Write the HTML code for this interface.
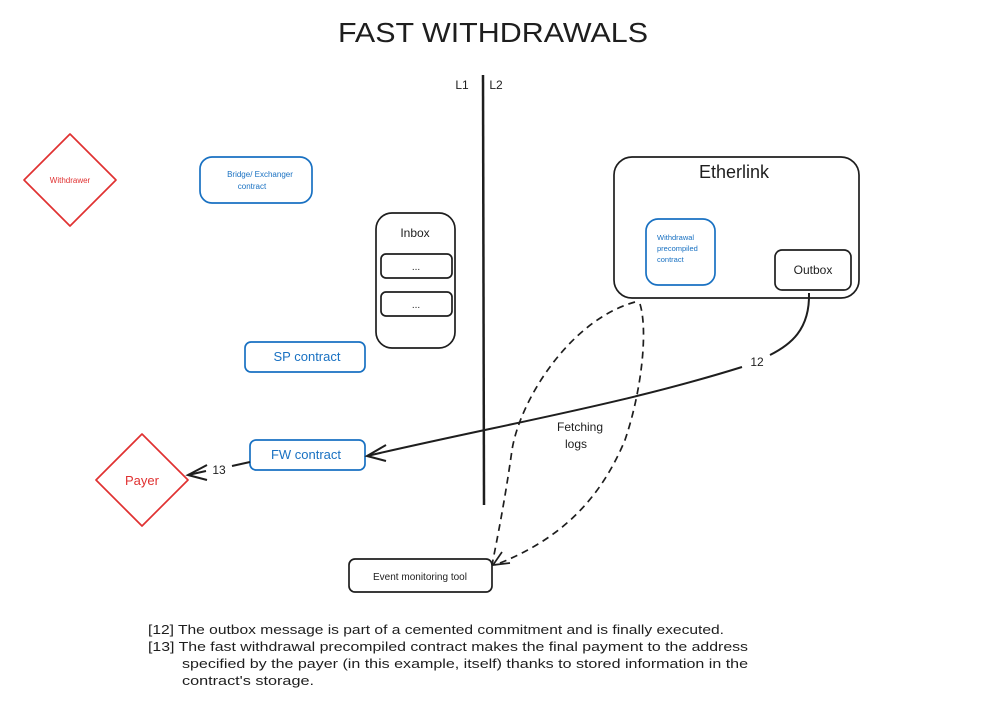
<!DOCTYPE html>
<html><head><meta charset="utf-8"><style>
body{margin:0;background:#fff}
svg text{font-family:"Liberation Sans",sans-serif}
</style></head><body>
<svg width="986" height="698" viewBox="0 0 986 698" xmlns="http://www.w3.org/2000/svg">
<rect width="986" height="698" fill="#fff"/>
<text x="493" y="42" font-size="28" text-anchor="middle" fill="#1e1e1e" textLength="310" lengthAdjust="spacingAndGlyphs">FAST WITHDRAWALS</text>
<line x1="483" y1="75" x2="484" y2="505" stroke="#1e1e1e" stroke-width="2.5"/>
<text x="462" y="89" font-size="12" text-anchor="middle" fill="#1e1e1e">L1</text>
<text x="496" y="89" font-size="12" text-anchor="middle" fill="#1e1e1e">L2</text>

<path d="M70 134 L116 180 L70 226 L24 180 Z" fill="none" stroke="#e03131" stroke-width="1.7" stroke-linejoin="round"/>
<text x="70" y="183" font-size="8" text-anchor="middle" fill="#e03131">Withdrawer</text>
<path d="M142 434 L188 480 L142 526 L96 480 Z" fill="none" stroke="#e03131" stroke-width="1.7" stroke-linejoin="round"/>
<text x="142" y="485" font-size="13" text-anchor="middle" fill="#e03131">Payer</text>

<rect x="200" y="157" width="112" height="46" rx="12" fill="none" stroke="#1971c2" stroke-width="1.7"/>
<text x="260" y="177" font-size="8" text-anchor="middle" fill="#1971c2">Bridge/ Exchanger</text>
<text x="252" y="189" font-size="8" text-anchor="middle" fill="#1971c2">contract</text>
<rect x="245" y="342" width="120" height="30" rx="6" fill="none" stroke="#1971c2" stroke-width="1.7"/>
<text x="307" y="361" font-size="13" text-anchor="middle" fill="#1971c2">SP contract</text>
<rect x="250" y="440" width="115" height="30" rx="6" fill="none" stroke="#1971c2" stroke-width="1.7"/>
<text x="306" y="459" font-size="13" text-anchor="middle" fill="#1971c2">FW contract</text>

<rect x="376" y="213" width="79" height="135" rx="16" fill="none" stroke="#1e1e1e" stroke-width="1.7"/>
<text x="415" y="237" font-size="12" text-anchor="middle" fill="#1e1e1e">Inbox</text>
<rect x="381" y="254" width="71" height="24" rx="5" fill="none" stroke="#1e1e1e" stroke-width="1.7"/>
<text x="416" y="270" font-size="10" text-anchor="middle" fill="#1e1e1e">...</text>
<rect x="381" y="292" width="71" height="24" rx="5" fill="none" stroke="#1e1e1e" stroke-width="1.7"/>
<text x="416" y="308" font-size="10" text-anchor="middle" fill="#1e1e1e">...</text>

<rect x="614" y="157" width="245" height="141" rx="18" fill="none" stroke="#1e1e1e" stroke-width="1.7"/>
<text x="734" y="178" font-size="18" text-anchor="middle" fill="#1e1e1e">Etherlink</text>
<rect x="646" y="219" width="69" height="66" rx="12" fill="none" stroke="#1971c2" stroke-width="1.7"/>
<text x="657" y="240" font-size="7.5" fill="#1971c2">Withdrawal</text>
<text x="657" y="251" font-size="7.5" fill="#1971c2">precompiled</text>
<text x="657" y="262" font-size="7.5" fill="#1971c2">contract</text>
<rect x="775" y="250" width="76" height="40" rx="7" fill="none" stroke="#1e1e1e" stroke-width="1.7"/>
<text x="813" y="274" font-size="12" text-anchor="middle" fill="#1e1e1e">Outbox</text>

<rect x="349" y="559" width="143" height="33" rx="6" fill="none" stroke="#1e1e1e" stroke-width="1.7"/>
<text x="420" y="580" font-size="10" text-anchor="middle" fill="#1e1e1e">Event monitoring tool</text>

<path d="M809 293 C810 330 790 345 770 355" fill="none" stroke="#1e1e1e" stroke-width="2"/>
<path d="M742 367 C620 405 500 425 367 456" fill="none" stroke="#1e1e1e" stroke-width="2"/>
<path d="M386 445 L367 456 L386 461" fill="none" stroke="#1e1e1e" stroke-width="2"/>
<text x="757" y="366" font-size="12" text-anchor="middle" fill="#1e1e1e">12</text>
<line x1="250" y1="462" x2="232" y2="466" stroke="#1e1e1e" stroke-width="2"/>
<line x1="206" y1="471" x2="188" y2="475" stroke="#1e1e1e" stroke-width="2"/>
<path d="M207 465 L188 475 L207 480" fill="none" stroke="#1e1e1e" stroke-width="2"/>
<text x="219" y="474" font-size="12" text-anchor="middle" fill="#1e1e1e">13</text>

<path d="M635 302 C570 320 520 400 512 450 C505 500 497 540 492 565" fill="none" stroke="#1e1e1e" stroke-width="1.7" stroke-dasharray="7 5"/>
<path d="M640 304 C648 330 642 390 625 440 C600 500 560 540 495 565" fill="none" stroke="#1e1e1e" stroke-width="1.7" stroke-dasharray="7 5"/>
<path d="M502 552 L493 565 L510 563" fill="none" stroke="#1e1e1e" stroke-width="1.7"/>
<text x="580" y="431" font-size="12" text-anchor="middle" fill="#1e1e1e">Fetching</text>
<text x="576" y="448" font-size="12" text-anchor="middle" fill="#1e1e1e">logs</text>

<g font-size="12.5" fill="#1e1e1e">
<text x="148" y="634" textLength="576" lengthAdjust="spacingAndGlyphs">[12] The outbox message is part of a cemented commitment and is finally executed.</text>
<text x="148" y="651" textLength="600" lengthAdjust="spacingAndGlyphs">[13] The fast withdrawal precompiled contract makes the final payment to the address</text>
<text x="182" y="668" textLength="566" lengthAdjust="spacingAndGlyphs">specified by the payer (in this example, itself) thanks to stored information in the</text>
<text x="182" y="685" textLength="132" lengthAdjust="spacingAndGlyphs">contract's storage.</text>
</g>
</svg>
</body></html>
